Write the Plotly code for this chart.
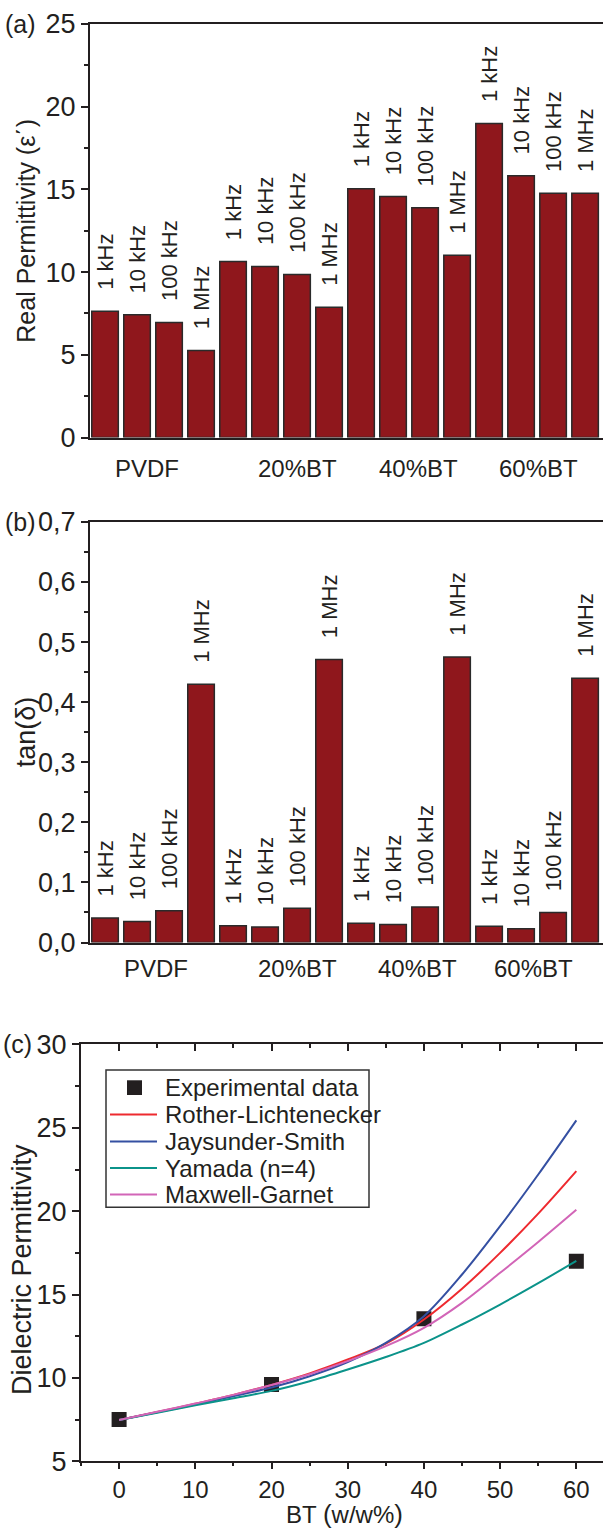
import plotly.graph_objects as go

# ---------------- data ----------------
groups = ["PVDF", "20%BT", "40%BT", "60%BT"]
freqs = ["1 kHz", "10 kHz", "100 kHz", "1 MHz"]

# (a) real permittivity per group (1 kHz, 10 kHz, 100 kHz, 1 MHz)
eps_pvdf = [7.64, 7.42, 6.96, 5.26]
eps_20bt = [10.64, 10.34, 9.86, 7.88]
eps_40bt = [15.04, 14.56, 13.88, 11.02]
eps_60bt = [18.98, 15.82, 14.76, 14.76]

# (b) tan(delta) per group
tan_pvdf = [0.041, 0.035, 0.053, 0.430]
tan_20bt = [0.028, 0.026, 0.057, 0.471]
tan_40bt = [0.032, 0.030, 0.059, 0.475]
tan_60bt = [0.027, 0.023, 0.050, 0.440]

# group label positions along the bar axis (bar index units)
label_pos_a = [1.3, 6.0, 9.8, 13.55]
label_pos_b = [1.6, 6.0, 9.75, 13.4]

# (c) dielectric permittivity vs BT content
bt_exp = [0, 20, 40, 60]
eps_exp = [7.5, 9.6, 13.55, 17.0]

bt_model = [0, 5, 10, 15, 20, 25, 30, 35, 40, 45, 50, 55, 60]
rother = [7.47, 7.95, 8.45, 8.98, 9.58, 10.27, 11.1, 12.05, 13.5, 15.35, 17.5, 19.85, 22.4]
jaysunder = [7.47, 7.93, 8.40, 8.90, 9.42, 10.1, 10.95, 12.1, 13.7, 16.2, 19.1, 22.2, 25.45]
yamada = [7.47, 7.90, 8.36, 8.78, 9.22, 9.8, 10.5, 11.25, 12.1, 13.2, 14.4, 15.68, 17.02]
maxwell = [7.47, 7.96, 8.46, 8.98, 9.57, 10.22, 11.0, 11.9, 13.0, 14.5, 16.3, 18.15, 20.08]

legend_names = ["Experimental data", "Rother-Lichtenecker", "Jaysunder-Smith",
                "Yamada (n=4)", "Maxwell-Garnet"]

# ---------------- styling ----------------
W, H = 603, 1536
FONT = "Liberation Sans, Arial, sans-serif"
INK = "#231F20"
BAR = "#8F171C"
C_RED = "#EE2A2F"
C_BLUE = "#3550A2"
C_TEAL = "#0B938A"
C_PINK = "#D265B7"
model_colors = [C_RED, C_BLUE, C_TEAL, C_PINK]


def py(px):
    return 1 - px / H


def pxx(px):
    return px / W


fig = go.Figure()

idx = list(range(16))
bar_labels = ["\u00a0\u00a0\u00a0" + f for f in freqs] * 4
vals_a = eps_pvdf + eps_20bt + eps_40bt + eps_60bt
vals_b = tan_pvdf + tan_20bt + tan_40bt + tan_60bt

common_bar = dict(
    width=0.83,
    marker=dict(color=BAR, line=dict(color="#2a2a2a", width=1.5)),
    textposition="outside",
    textangle=-90,
    textfont=dict(family=FONT, size=22, color=INK),
    cliponaxis=False,
    constraintext="none",
    showlegend=False,
    hoverinfo="skip",
)

fig.add_trace(go.Bar(x=idx, y=vals_a, text=bar_labels, xaxis="x", yaxis="y", **common_bar))
fig.add_trace(go.Bar(x=idx, y=vals_b, text=bar_labels, xaxis="x2", yaxis="y2", **common_bar))

# panel (c)
fig.add_trace(go.Scatter(
    x=bt_exp, y=eps_exp, mode="markers", name=legend_names[0], showlegend=False,
    marker=dict(symbol="square", size=15, color=INK),
    xaxis="x3", yaxis="y3"))
for name, vals, col in zip(legend_names[1:], [rother, jaysunder, yamada, maxwell], model_colors):
    fig.add_trace(go.Scatter(
        x=bt_model, y=vals, mode="lines", name=name, showlegend=False,
        line=dict(color=col, width=2, shape="spline", smoothing=0.9),
        xaxis="x3", yaxis="y3"))
# helper trace for the top tick axis of (c)
fig.add_trace(go.Scatter(x=[None], y=[None], xaxis="x4", yaxis="y3",
                         showlegend=False, hoverinfo="skip"))

axis_line = dict(showline=True, linecolor=INK, linewidth=2, showgrid=False, zeroline=False)
tick_font = dict(family=FONT, size=27, color=INK)

# domains (pixel based)
xa_dom = [pxx(90), 1.0]
a_top, a_bot = 9, 431
b_top, b_bot = 517, 946
c_top, c_bot = 1050, 1475
xc_dom = [pxx(81), 1.0]
dc = c_top - 1022  # offset of panel (c) decorations

fig.update_layout(
    width=W, height=H,
    margin=dict(l=0, r=0, t=0, b=0),
    paper_bgcolor="white", plot_bgcolor="white",
    separators=",.",
    showlegend=False,
    font=dict(family=FONT, color=INK),
    xaxis=dict(domain=xa_dom, range=[-0.47, 15.56], anchor="y", mirror=True,
               showticklabels=False, ticks="", **axis_line),
    yaxis=dict(domain=[py(a_bot), py(a_top)], range=[0, 25], anchor="x",
               tickvals=[0, 5, 10, 15, 20, 25], ticks="outside", ticklen=7,
               tickwidth=2, tickcolor=INK, tickfont=tick_font,
               minor=dict(ticks="outside", ticklen=4, tickwidth=2, tickcolor=INK, dtick=2.5),
               **axis_line),
    xaxis2=dict(domain=xa_dom, range=[-0.47, 15.56], anchor="y2", mirror=True,
                showticklabels=False, ticks="", **axis_line),
    yaxis2=dict(domain=[py(b_bot), py(b_top)], range=[0, 0.7], anchor="x2",
                tickvals=[0, 0.1, 0.2, 0.3, 0.4, 0.5, 0.6, 0.7], tickformat=".1f",
                ticks="outside", ticklen=7, tickwidth=2, tickcolor=INK, tickfont=tick_font,
                minor=dict(ticks="outside", ticklen=4, tickwidth=2, tickcolor=INK, dtick=0.05),
                **axis_line),
    xaxis3=dict(domain=xc_dom, range=[-5, 63.5], anchor="y3", mirror=True,
                tickvals=[0, 10, 20, 30, 40, 50, 60], ticks="outside", ticklen=6,
                tickwidth=2, tickcolor=INK, tickfont=dict(family=FONT, size=24, color=INK),
                minor=dict(ticks="outside", ticklen=3, tickwidth=2, tickcolor=INK, dtick=5, tick0=0),
                **axis_line),
    xaxis4=dict(domain=xc_dom, range=[-5, 63.5], anchor="y3", overlaying="x3", side="top",
                tickvals=[0, 10, 20, 30, 40, 50, 60], ticks="inside", ticklen=7, tickwidth=2,
                tickcolor=INK, showticklabels=False, showline=False, showgrid=False,
                zeroline=False,
                minor=dict(ticks="inside", ticklen=4, tickwidth=2, tickcolor=INK, dtick=5, tick0=0)),
    yaxis3=dict(domain=[py(c_bot), py(c_top)], range=[5, 30], anchor="x3",
                tickvals=[5, 10, 15, 20, 25, 30], ticks="outside", ticklen=7,
                tickwidth=2, tickcolor=INK, tickfont=tick_font,
                minor=dict(ticks="outside", ticklen=4, tickwidth=2, tickcolor=INK, dtick=2.5),
                **axis_line),
)

ann = []
shapes = []
# panel letters
for txt, xpx, ypx in [("(a)", 20, a_top), ("(b)", 20, b_top), ("(c)", 17, c_top)]:
    ann.append(dict(text=txt, x=pxx(xpx), y=py(ypx), xref="paper", yref="paper",
                    showarrow=False, xanchor="center", yanchor="middle",
                    font=dict(family=FONT, size=25, color=INK)))
# axis titles
ann.append(dict(text="Real Permittivity (ε΄)", x=pxx(26), y=py((a_top + a_bot) / 2),
                xref="paper", yref="paper", showarrow=False, textangle=-90,
                xanchor="center", yanchor="middle", font=dict(family=FONT, size=25, color=INK)))
ann.append(dict(text="tan(δ)", x=pxx(26), y=py((b_top + b_bot) / 2),
                xref="paper", yref="paper", showarrow=False, textangle=-90,
                xanchor="center", yanchor="middle", font=dict(family=FONT, size=27, color=INK)))
ann.append(dict(text="Dielectric Permittivity", x=pxx(22), y=py(1252 + dc),
                xref="paper", yref="paper", showarrow=False, textangle=-90,
                xanchor="center", yanchor="middle", font=dict(family=FONT, size=27, color=INK)))
ann.append(dict(text="BT <span style='font-size:26px'>(</span>w/w%<span style='font-size:26px'>)</span>",
                x=pxx(345), y=py(1529),
                xref="paper", yref="paper", showarrow=False,
                xanchor="center", yanchor="middle", font=dict(family=FONT, size=24, color=INK)))
# group labels
for g, p in zip(groups, label_pos_a):
    ann.append(dict(text=g, x=p, y=py(a_bot + 32), xref="x", yref="paper", showarrow=False,
                    xanchor="center", yanchor="middle", font=dict(family=FONT, size=24, color=INK)))
for g, p in zip(groups, label_pos_b):
    ann.append(dict(text=g, x=p, y=py(b_bot + 26), xref="x2", yref="paper", showarrow=False,
                    xanchor="center", yanchor="middle", font=dict(family=FONT, size=24, color=INK)))

# legend box for panel (c)
lg_l, lg_t, lg_r, lg_b = 106, 1048 + dc, 369, 1188 + dc
shapes.append(dict(type="rect", xref="paper", yref="paper",
                   x0=pxx(lg_l), x1=pxx(lg_r), y0=py(lg_b), y1=py(lg_t),
                   line=dict(color="#333333", width=1.5), fillcolor="white", layer="above"))
row_y = [1066 + dc, 1093.5 + dc, 1121 + dc, 1148 + dc, 1175 + dc]
for i, (name, ry) in enumerate(zip(legend_names, row_y)):
    if i == 0:
        shapes.append(dict(type="rect", xref="paper", yref="paper",
                           x0=pxx(127), x1=pxx(142), y0=py(ry + 7.5), y1=py(ry - 7.5),
                           line=dict(width=0), fillcolor=INK, layer="above"))
    else:
        shapes.append(dict(type="line", xref="paper", yref="paper",
                           x0=pxx(110), x1=pxx(157), y0=py(ry), y1=py(ry),
                           line=dict(color=model_colors[i - 1], width=2), layer="above"))
    ann.append(dict(text=name, x=pxx(163), y=py(ry), xref="paper", yref="paper",
                    showarrow=False, xanchor="left", yanchor="middle",
                    font=dict(family=FONT, size=24, color=INK)))

fig.update_layout(annotations=ann, shapes=shapes)

fig.write_html("out.html")
